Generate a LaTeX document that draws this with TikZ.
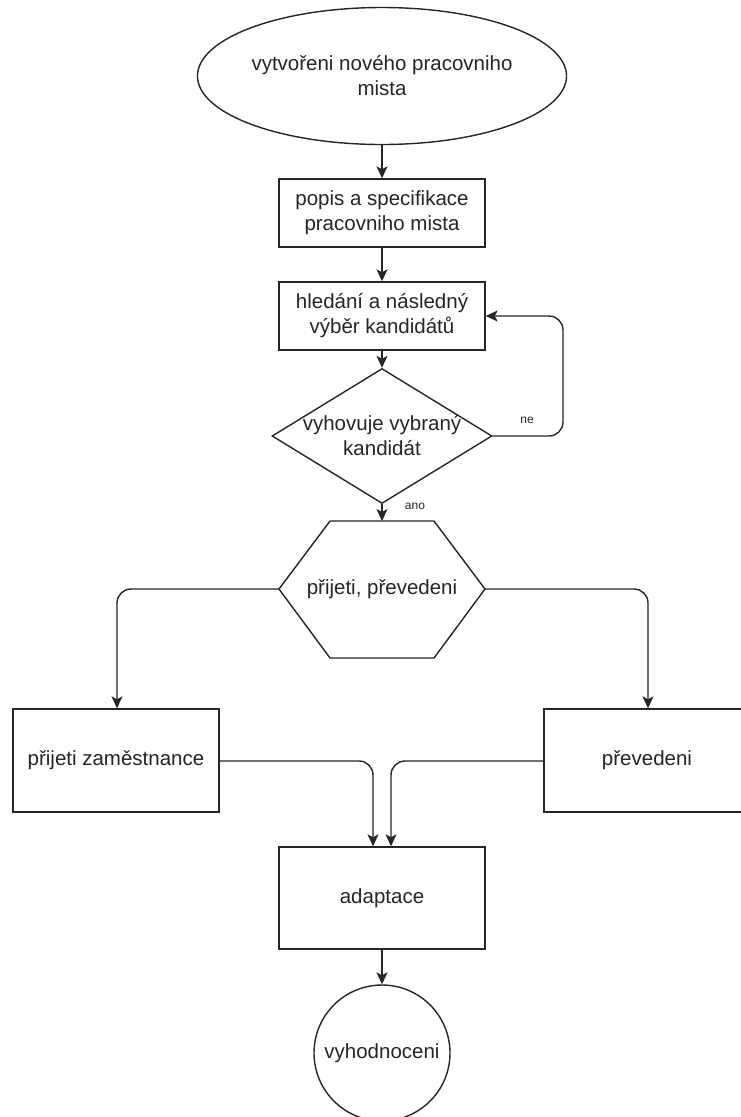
\documentclass[tikz,border=0pt]{standalone}
\usepackage{fontspec}
\setmainfont{Liberation Sans}
\usetikzlibrary{shapes.geometric,arrows.meta,calc}
\begin{document}
\begin{tikzpicture}[x=1pt,y=-1pt,
  line width=1.4pt,
  txt/.style={font=\fontsize{20.5}{25}\selectfont, text=black!85, align=center},
  boxnode/.style={txt, draw=black!85, rectangle, inner sep=0pt},
  conn/.style={draw=black!85, -{Stealth[length=12pt,width=11pt,inset=3pt]}, rounded corners=14pt},
  small/.style={font=\fontsize{12}{14}\selectfont, text=black!85}
]
\useasboundingbox (0,0) rectangle (741,1117);
\fill[white] (0,0) rectangle (741,1117);
\clip (0,0) rectangle (741,1117);

% nodes
\node[boxnode, ellipse, minimum width=327pt, minimum height=137pt] (start) at (382,76)
  {vytvořeni nového pracovniho\\mista};
\node[boxnode, minimum width=206pt, minimum height=68pt] (popis) at (382,213)
  {popis a specifikace\\pracovniho mista};
\node[boxnode, minimum width=206pt, minimum height=68pt] (hled) at (382,316)
  {hledání a následný\\výběr kandidátů};
\node[draw=black!85, diamond, inner sep=0pt, minimum width=220pt, minimum height=135pt] (dec) at (382,436) {};
\node[txt] (dect) at (382,436) {vyhovuje vybraný\\kandidát};

% hexagon
\coordinate (hw) at (279,589);
\coordinate (hnw) at (330,521);
\coordinate (hne) at (434,521);
\coordinate (he) at (485,589);
\coordinate (hse) at (434,658);
\coordinate (hsw) at (330,658);
\coordinate (hn) at (382,521);
\draw[draw=black!85] (hw) -- (hnw) -- (hne) -- (he) -- (hse) -- (hsw) -- cycle;
\node[txt] (hex) at (382,589) {přijeti, převedeni};

\node[boxnode, minimum width=206pt, minimum height=103pt] (prij) at (116,760.5)
  {přijeti zaměstnance};
\node[boxnode, minimum width=206pt, minimum height=103pt] (prev) at (647,760.5)
  {převedeni};
\node[boxnode, minimum width=206pt, minimum height=102pt] (adap) at (382,898)
  {adaptace};
\node[boxnode, circle, minimum size=136pt] (vyh) at (382,1053)
  {vyhodnoceni};

% labels
\node[small] (ne) at (527,420) {ne};
\node[small] (ano) at (415,506) {ano};

% connectors
\coordinate (loop1) at (563,436);
\coordinate (loop2) at (563,316);
\coordinate (l1) at (117,589);
\coordinate (r1) at (648,589);
\coordinate (m1) at (373,761);
\coordinate (m2) at (391,761);

\draw[conn] (start.south) -- (popis.north);
\draw[conn] (popis.south) -- (hled.north);
\draw[conn] (hled.south) -- (dec.north);
\draw[conn] (dec.east) -- (loop1) -- (loop2) -- (hled.east);
\draw[conn] (dec.south) -- (hn);
\draw[conn] (hw) -- (l1) -- (prij.north -| l1);
\draw[conn] (he) -- (r1) -- (prev.north -| r1);
\draw[conn] (prij.east |- m1) -- (m1) -- (adap.north -| m1);
\draw[conn] (prev.west |- m2) -- (m2) -- (adap.north -| m2);
\draw[conn] (adap.south) -- (vyh.north);
\end{tikzpicture}
\end{document}
